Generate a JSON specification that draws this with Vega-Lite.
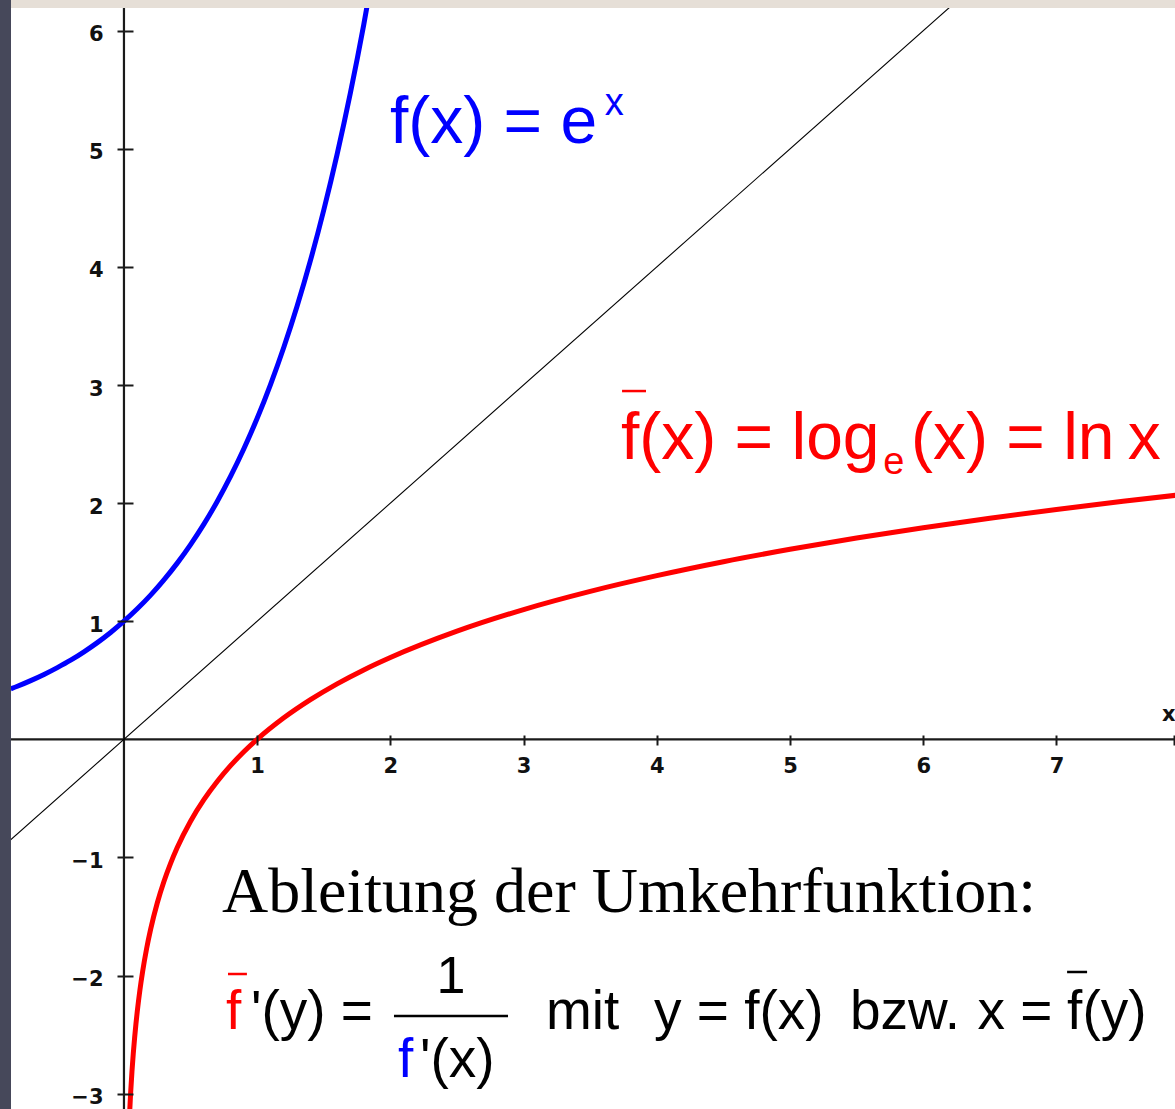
{
  "$schema": "https://vega.github.io/schema/vega-lite/v6.json",
  "width": 1164,
  "height": 1109,
  "autosize": {"type": "none"},
  "padding": {"left": 11, "top": 0, "right": 0, "bottom": 0},
  "background": "#46485a",
  "config": {
    "view": {"fill": "#ffffff", "stroke": null},
    "legend": {"disable": true}
  },
  "datasets": {
    "origin": [
      {"x": 0, "y": 0}
    ],
    "diagonal": [
      {"fn": "identity", "x": -0.9, "y": -0.9},
      {"fn": "identity", "x": 6.4, "y": 6.4}
    ],
    "curves": [
      {"fn": "exp", "x": -0.85, "y": 0.427},
      {"fn": "exp", "x": -0.8, "y": 0.449},
      {"fn": "exp", "x": -0.7, "y": 0.497},
      {"fn": "exp", "x": -0.6, "y": 0.549},
      {"fn": "exp", "x": -0.5, "y": 0.607},
      {"fn": "exp", "x": -0.4, "y": 0.670},
      {"fn": "exp", "x": -0.3, "y": 0.741},
      {"fn": "exp", "x": -0.2, "y": 0.819},
      {"fn": "exp", "x": -0.1, "y": 0.905},
      {"fn": "exp", "x": 0.0, "y": 1.0},
      {"fn": "exp", "x": 0.1, "y": 1.105},
      {"fn": "exp", "x": 0.2, "y": 1.221},
      {"fn": "exp", "x": 0.3, "y": 1.350},
      {"fn": "exp", "x": 0.4, "y": 1.492},
      {"fn": "exp", "x": 0.5, "y": 1.649},
      {"fn": "exp", "x": 0.6, "y": 1.822},
      {"fn": "exp", "x": 0.7, "y": 2.014},
      {"fn": "exp", "x": 0.8, "y": 2.226},
      {"fn": "exp", "x": 0.9, "y": 2.460},
      {"fn": "exp", "x": 1.0, "y": 2.718},
      {"fn": "exp", "x": 1.1, "y": 3.004},
      {"fn": "exp", "x": 1.2, "y": 3.320},
      {"fn": "exp", "x": 1.3, "y": 3.669},
      {"fn": "exp", "x": 1.4, "y": 4.055},
      {"fn": "exp", "x": 1.5, "y": 4.482},
      {"fn": "exp", "x": 1.6, "y": 4.953},
      {"fn": "exp", "x": 1.7, "y": 5.474},
      {"fn": "exp", "x": 1.8, "y": 6.050},
      {"fn": "exp", "x": 1.9, "y": 6.686},
      {"fn": "ln", "x": 0.04, "y": -3.219},
      {"fn": "ln", "x": 0.05, "y": -2.996},
      {"fn": "ln", "x": 0.06, "y": -2.813},
      {"fn": "ln", "x": 0.07, "y": -2.659},
      {"fn": "ln", "x": 0.08, "y": -2.526},
      {"fn": "ln", "x": 0.09, "y": -2.408},
      {"fn": "ln", "x": 0.1, "y": -2.303},
      {"fn": "ln", "x": 0.12, "y": -2.120},
      {"fn": "ln", "x": 0.14, "y": -1.966},
      {"fn": "ln", "x": 0.17, "y": -1.772},
      {"fn": "ln", "x": 0.2, "y": -1.609},
      {"fn": "ln", "x": 0.25, "y": -1.386},
      {"fn": "ln", "x": 0.3, "y": -1.204},
      {"fn": "ln", "x": 0.35, "y": -1.050},
      {"fn": "ln", "x": 0.4, "y": -0.916},
      {"fn": "ln", "x": 0.5, "y": -0.693},
      {"fn": "ln", "x": 0.6, "y": -0.511},
      {"fn": "ln", "x": 0.7, "y": -0.357},
      {"fn": "ln", "x": 0.8, "y": -0.223},
      {"fn": "ln", "x": 0.9, "y": -0.105},
      {"fn": "ln", "x": 1.0, "y": 0.0},
      {"fn": "ln", "x": 1.2, "y": 0.182},
      {"fn": "ln", "x": 1.4, "y": 0.336},
      {"fn": "ln", "x": 1.6, "y": 0.470},
      {"fn": "ln", "x": 1.8, "y": 0.588},
      {"fn": "ln", "x": 2.0, "y": 0.693},
      {"fn": "ln", "x": 2.5, "y": 0.916},
      {"fn": "ln", "x": 3.0, "y": 1.099},
      {"fn": "ln", "x": 3.5, "y": 1.253},
      {"fn": "ln", "x": 4.0, "y": 1.386},
      {"fn": "ln", "x": 4.5, "y": 1.504},
      {"fn": "ln", "x": 5.0, "y": 1.609},
      {"fn": "ln", "x": 5.5, "y": 1.705},
      {"fn": "ln", "x": 6.0, "y": 1.792},
      {"fn": "ln", "x": 6.5, "y": 1.872},
      {"fn": "ln", "x": 7.0, "y": 1.946},
      {"fn": "ln", "x": 7.5, "y": 2.015},
      {"fn": "ln", "x": 7.9, "y": 2.067}
    ],
    "bars": [
      {"fn": "ln", "x": 3.739, "x2": 3.919, "y": 2.949},
      {"fn": "ln", "x": 0.781, "x2": 0.923, "y": -1.987},
      {"fn": "plain", "x": 2.027, "x2": 2.883, "y": -2.343},
      {"fn": "plain", "x": 7.080, "x2": 7.230, "y": -1.970}
    ],
    "texts": [
      {"fn": "exp", "kind": "label", "x": 1.997, "y": 5.049, "text": "f(x) = e"},
      {"fn": "exp", "kind": "script", "x": 3.610, "y": 5.286, "text": "x"},
      {"fn": "ln", "kind": "label", "x": 3.731, "y": 2.373, "text": "f(x) = log"},
      {"fn": "ln", "kind": "script", "x": 5.700, "y": 2.246, "text": "e"},
      {"fn": "ln", "kind": "label", "x": 5.908, "y": 2.373, "text": "(x) = ln\u2009x"},
      {"fn": "plain", "kind": "heading", "x": 0.736, "y": -1.462, "text": "Ableitung der Umkehrfunktion:"},
      {"fn": "ln", "kind": "formula", "x": 0.766, "y": -2.453, "text": "f"},
      {"fn": "plain", "kind": "formula", "x": 0.953, "y": -2.453, "text": "'(y) ="},
      {"fn": "plain", "kind": "numerator", "x": 2.455, "y": -2.148, "text": "1"},
      {"fn": "exp", "kind": "formula", "x": 2.057, "y": -2.859, "text": "f"},
      {"fn": "plain", "kind": "formula", "x": 2.222, "y": -2.859, "text": "'(x)"},
      {"fn": "plain", "kind": "formula", "x": 3.168, "y": -2.453, "text": "mit"},
      {"fn": "plain", "kind": "formula", "x": 3.979, "y": -2.453, "text": "y = f(x)"},
      {"fn": "plain", "kind": "formula", "x": 5.450, "y": -2.453, "text": "bzw."},
      {"fn": "plain", "kind": "formula", "x": 6.407, "y": -2.453, "text": "x ="},
      {"fn": "plain", "kind": "formula", "x": 7.080, "y": -2.453, "text": "f(y)"}
    ]
  },
  "layer": [
    {
      "data": {"name": "origin"},
      "mark": {"type": "rule", "color": "#1a1a1a", "strokeWidth": 2.2},
      "encoding": {
        "y": {
          "field": "y",
          "type": "quantitative",
          "scale": {"domain": [-3.13, 6.26], "nice": false, "zero": false},
          "axis": {
            "orient": "left",
            "offset": -122,
            "zindex": 1,
            "values": [-3, -2, -1, 1, 2, 3, 4, 5, 6],
            "format": "d",
            "domain": false,
            "grid": false,
            "ticks": true,
            "labels": true,
            "tickSize": 16,
            "tickWidth": 2,
            "tickColor": "#1a1a1a",
            "labelFont": "DejaVu Sans",
            "labelFontWeight": "bold",
            "labelFontSize": 21,
            "labelColor": "#111111",
            "labelPadding": 14,
            "labelBaseline": "middle",
            "labelOffset": 4,
            "labelFlush": false,
            "labelOverlap": false,
            "title": null
          }
        }
      }
    },
    {
      "data": {"name": "origin"},
      "mark": {"type": "rule", "color": "#1a1a1a", "strokeWidth": 2.2},
      "encoding": {
        "x": {
          "field": "x",
          "type": "quantitative",
          "scale": {"domain": [-0.848, 7.89], "nice": false, "zero": false},
          "axis": {
            "orient": "bottom",
            "offset": -374,
            "zindex": 1,
            "values": [1, 2, 3, 4, 5, 6, 7, 7.883],
            "format": "d",
            "labelExpr": "datum.value > 7.5 ? '' : datum.label",
            "domain": false,
            "grid": false,
            "ticks": true,
            "labels": true,
            "tickSize": 10,
            "tickWidth": 2,
            "tickColor": "#1a1a1a",
            "labelFont": "DejaVu Sans",
            "labelFontWeight": "bold",
            "labelFontSize": 21,
            "labelColor": "#111111",
            "labelPadding": 10,
            "labelFlush": false,
            "labelOverlap": false,
            "title": "x",
            "titleFont": "DejaVu Sans",
            "titleFontWeight": "bold",
            "titleFontSize": 21,
            "titleColor": "#111111",
            "titleAnchor": "end",
            "titleAlign": "right",
            "titleBaseline": "alphabetic",
            "titleX": 1164,
            "titleY": -15
          }
        }
      }
    },
    {
      "data": {"name": "diagonal"},
      "mark": {"type": "line", "strokeWidth": 1.1, "clip": true},
      "encoding": {
        "x": {"field": "x", "type": "quantitative"},
        "y": {"field": "y", "type": "quantitative"},
        "color": {
          "field": "fn",
          "type": "nominal",
          "scale": {"domain": ["exp", "ln", "identity", "plain"], "range": ["#0000ff", "#ff0000", "#000000", "#000000"]}
        }
      }
    },
    {
      "data": {"name": "curves"},
      "mark": {"type": "line", "strokeWidth": 5, "interpolate": "monotone", "clip": true},
      "encoding": {
        "x": {"field": "x", "type": "quantitative"},
        "y": {"field": "y", "type": "quantitative"},
        "color": {"field": "fn", "type": "nominal"}
      }
    },
    {
      "data": {"name": "bars"},
      "mark": {"type": "rule", "strokeWidth": 2.5},
      "encoding": {
        "x": {"field": "x", "type": "quantitative"},
        "x2": {"field": "x2"},
        "y": {"field": "y", "type": "quantitative"},
        "color": {"field": "fn", "type": "nominal"}
      }
    },
    {
      "data": {"name": "texts"},
      "transform": [{"filter": "datum.kind === 'label'"}],
      "mark": {"type": "text", "font": "Liberation Sans", "fontSize": 66, "align": "left", "baseline": "alphabetic"},
      "encoding": {
        "x": {"field": "x", "type": "quantitative"},
        "y": {"field": "y", "type": "quantitative"},
        "text": {"field": "text"},
        "color": {"field": "fn", "type": "nominal"}
      }
    },
    {
      "data": {"name": "texts"},
      "transform": [{"filter": "datum.kind === 'script'"}],
      "mark": {"type": "text", "font": "Liberation Sans", "fontSize": 38, "align": "left", "baseline": "alphabetic"},
      "encoding": {
        "x": {"field": "x", "type": "quantitative"},
        "y": {"field": "y", "type": "quantitative"},
        "text": {"field": "text"},
        "color": {"field": "fn", "type": "nominal"}
      }
    },
    {
      "data": {"name": "texts"},
      "transform": [{"filter": "datum.kind === 'heading'"}],
      "mark": {"type": "text", "font": "Liberation Serif", "fontSize": 64, "align": "left", "baseline": "alphabetic"},
      "encoding": {
        "x": {"field": "x", "type": "quantitative"},
        "y": {"field": "y", "type": "quantitative"},
        "text": {"field": "text"},
        "color": {"field": "fn", "type": "nominal"}
      }
    },
    {
      "data": {"name": "texts"},
      "transform": [{"filter": "datum.kind === 'formula'"}],
      "mark": {"type": "text", "font": "Liberation Sans", "fontSize": 55, "align": "left", "baseline": "alphabetic"},
      "encoding": {
        "x": {"field": "x", "type": "quantitative"},
        "y": {"field": "y", "type": "quantitative"},
        "text": {"field": "text"},
        "color": {"field": "fn", "type": "nominal"}
      }
    },
    {
      "data": {"name": "texts"},
      "transform": [{"filter": "datum.kind === 'numerator'"}],
      "mark": {"type": "text", "font": "Liberation Sans", "fontSize": 52, "align": "center", "baseline": "alphabetic"},
      "encoding": {
        "x": {"field": "x", "type": "quantitative"},
        "y": {"field": "y", "type": "quantitative"},
        "text": {"field": "text"},
        "color": {"field": "fn", "type": "nominal"}
      }
    },
    {
      "data": {"name": "origin"},
      "mark": {"type": "rect", "color": "#e6dfd7", "clip": true},
      "encoding": {
        "y": {"datum": 6.192, "type": "quantitative"},
        "y2": {"datum": 6.4}
      }
    }
  ]
}
